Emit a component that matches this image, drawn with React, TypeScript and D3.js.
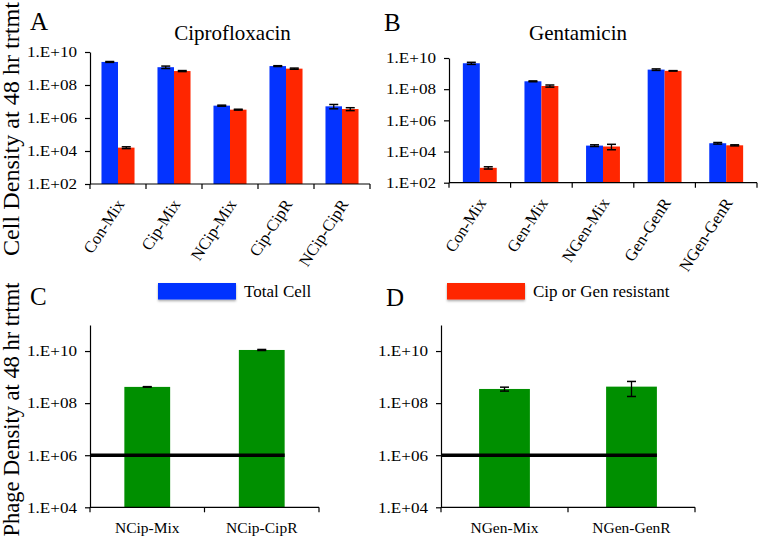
import React, { useEffect, useRef } from "react";
import * as d3 from "d3";

const cipCategories = ["Con-Mix", "Cip-Mix", "NCip-Mix", "Cip-CipR", "NCip-CipR"];
const cipTotal = [2.5e9, 1.2e9, 5.6e6, 1.4e9, 5.1e6];
const cipTotalErr = [1.5e8, 2e8, 4e5, 8e7, 1.5e6];
const cipResistant = [1.6e4, 7e8, 3.2e6, 9.8e8, 3.5e6];
const cipResistantErr = [2e3, 5e7, 2e5, 8e7, 7e5];

const genCategories = ["Con-Mix", "Gen-Mix", "NGen-Mix", "Gen-GenR", "NGen-GenR"];
const genTotal = [4.6e9, 3.2e8, 2.4e4, 1.8e9, 3.4e4];
const genTotalErr = [7e8, 2e7, 3e3, 2e8, 4e3];
const genResistant = [9e2, 1.6e8, 2.1e4, 1.5e9, 2.5e4];
const genResistantErr = [1.5e2, 2.5e7, 8e3, 5e7, 2e3];

const phageCipCategories = ["NCip-Mix", "NCip-CipR"];
const phageCip = [4.2e8, 1.1e10];
const phageCipErr = [1e7, 5e8];
const phageGenCategories = ["NGen-Mix", "NGen-GenR"];
const phageGen = [3.5e8, 4.3e8];
const phageGenErr = [6e7, 2.5e8];
const phageLimit = 1e6;

const cellTicks = [1e2, 1e4, 1e6, 1e8, 1e10];
const phageTicks = [1e4, 1e6, 1e8, 1e10];
const cellDomain = [1e2, 1e10];
const phageDomain = [1e4, 1e11];

const seriesNames = ["Total Cell", "Cip or Gen resistant"];
const panelLetters = ["A", "B", "C", "D"];
const panelTitles = ["Ciprofloxacin", "Gentamicin"];
const yTitles = ["Cell Density at 48 hr trtmt", "Phage Density at 48 hr trtmt"];

const BLUE = "#0433FF";
const RED = "#FF2600";
const GREEN = "#008F00";
const FONT = "Liberation Serif, Times New Roman, serif";

const fmt = (v: number) => "1.E+" + String(Math.round(Math.log10(v))).padStart(2, "0");

export default function App() {
  const ref = useRef<SVGSVGElement | null>(null);

  useEffect(() => {
    const svg = d3.select(ref.current);
    svg.selectAll("*").remove();

    const defs = svg.append("defs");
    defs
      .append("filter")
      .attr("id", "sh")
      .attr("x", "-10%")
      .attr("y", "-30%")
      .attr("width", "130%")
      .attr("height", "180%")
      .append("feDropShadow")
      .attr("dx", 0)
      .attr("dy", 1.5)
      .attr("stdDeviation", 1)
      .attr("flood-opacity", 0.35);

    const txt = (sel: any, size: number) =>
      sel.attr("font-family", FONT).attr("font-size", size).attr("fill", "#000");

    const drawYAxis = (g: any, y: any, ticks: number[], x0: number) => {
      const ax = g
        .append("g")
        .attr("transform", `translate(${x0},0)`)
        .call(d3.axisLeft(y).tickValues(ticks).tickSize(5).tickSizeOuter(0).tickPadding(8).tickFormat(fmt as any));
      ax.attr("font-family", FONT).attr("font-size", 15);
      ax.select(".domain").attr("stroke", "#000").attr("stroke-width", 1.2);
      ax.selectAll(".tick line").attr("stroke", "#000").attr("stroke-width", 1.2);
      txt(ax.selectAll(".tick text"), 15)
        .attr("textLength", 50)
        .attr("lengthAdjust", "spacingAndGlyphs");
    };

    const drawXAxisLine = (g: any, x: any, yPos: number) => {
      const [r0, r1] = x.range();
      g.append("line").attr("x1", r0).attr("x2", r1).attr("y1", yPos).attr("y2", yPos)
        .attr("stroke", "#000").attr("stroke-width", 1.2);
      const step = x.step();
      const bounds = x.domain().map((c: string) => x(c) - (step - x.bandwidth()) / 2);
      bounds.push(r1);
      g.selectAll(null).data(bounds).enter().append("line")
        .attr("x1", (d: number) => d).attr("x2", (d: number) => d)
        .attr("y1", yPos).attr("y2", yPos + 5)
        .attr("stroke", "#000").attr("stroke-width", 1.2);
    };

    const drawErr = (g: any, cx: number, y: any, v: number, e: number, cap: number) => {
      const yt = y(v + e);
      const yb = y(Math.max(v - e, y.domain()[0]));
      g.append("line").attr("x1", cx).attr("x2", cx).attr("y1", yt).attr("y2", yb).attr("stroke", "#000").attr("stroke-width", 1.3);
      [yt, yb].forEach((yy) =>
        g.append("line").attr("x1", cx - cap / 2).attr("x2", cx + cap / 2).attr("y1", yy).attr("y2", yy)
          .attr("stroke", "#000").attr("stroke-width", 1.5)
      );
    };

    const grouped = (
      cats: string[],
      series: { vals: number[]; errs: number[]; color: string }[],
      xr: [number, number],
      yr: [number, number],
      pad: number
    ) => {
      const g = svg.append("g");
      const x = d3.scaleBand().domain(cats).range(xr).paddingInner(pad).paddingOuter(pad / 2);
      const y = d3.scaleLog().domain(cellDomain).range(yr);
      const sub = d3.scaleBand().domain(series.map((_, i) => String(i))).range([0, x.bandwidth()]);
      series.forEach((s, si) => {
        g.selectAll(null).data(cats).enter().append("rect")
          .attr("x", (c: string) => (x(c) as number) + (sub(String(si)) as number))
          .attr("width", sub.bandwidth())
          .attr("y", (_: string, i: number) => y(s.vals[i]))
          .attr("height", (_: string, i: number) => yr[0] - y(s.vals[i]))
          .attr("fill", s.color);
      });
      series.forEach((s, si) => {
        cats.forEach((c, i) => {
          const cx = (x(c) as number) + (sub(String(si)) as number) + sub.bandwidth() / 2;
          drawErr(g, cx, y, s.vals[i], s.errs[i], 9);
        });
      });
      drawYAxis(g, y, cellTicks, xr[0]);
      drawXAxisLine(g, x, yr[0]);
      txt(
        g.selectAll(null).data(cats).enter().append("text")
          .attr("transform", (c: string) =>
            `translate(${(x(c) as number) + x.bandwidth() / 2 + 7},${yr[0] + 20}) rotate(-57)`)
          .attr("text-anchor", "end"),
        16.5
      ).text((c: string) => c);
    };

    const phage = (cats: string[], vals: number[], errs: number[], xr: [number, number], yr: [number, number]) => {
      const g = svg.append("g");
      const x = d3.scaleBand().domain(cats).range(xr).paddingInner(0.6).paddingOuter(0.3);
      const y = d3.scaleLog().domain(phageDomain).range(yr);
      g.selectAll(null).data(cats).enter().append("rect")
        .attr("x", (c: string) => x(c) as number)
        .attr("width", x.bandwidth())
        .attr("y", (_: string, i: number) => y(vals[i]))
        .attr("height", (_: string, i: number) => yr[0] - y(vals[i]))
        .attr("fill", GREEN);
      cats.forEach((c, i) => drawErr(g, (x(c) as number) + x.bandwidth() / 2, y, vals[i], errs[i], 9));
      drawYAxis(g, y, phageTicks, xr[0]);
      drawXAxisLine(g, x, yr[0]);
      const last = cats[cats.length - 1];
      g.append("line")
        .attr("x1", xr[0] + 1)
        .attr("x2", (x(last) as number) + x.bandwidth())
        .attr("y1", y(phageLimit)).attr("y2", y(phageLimit))
        .attr("stroke", "#000").attr("stroke-width", 3.5);
      txt(
        g.selectAll(null).data(cats).enter().append("text")
          .attr("x", (c: string) => (x(c) as number) + x.bandwidth() / 2)
          .attr("y", yr[0] + 26)
          .attr("text-anchor", "middle"),
        15.5
      ).text((c: string) => c);
    };

    grouped(
      cipCategories,
      [
        { vals: cipTotal, errs: cipTotalErr, color: BLUE },
        { vals: cipResistant, errs: cipResistantErr, color: RED },
      ],
      [90, 370],
      [184, 52],
      0.41
    );
    grouped(
      genCategories,
      [
        { vals: genTotal, errs: genTotalErr, color: BLUE },
        { vals: genResistant, errs: genResistantErr, color: RED },
      ],
      [449, 757],
      [182.7, 58],
      0.45
    );
    phage(phageCipCategories, phageCip, phageCipErr, [90, 319], [507.3, 325]);
    phage(phageGenCategories, phageGen, phageGenErr, [441, 695], [507.3, 325]);

    const letterPos = [
      [30, 30],
      [384, 31],
      [30, 305],
      [386, 306],
    ];
    panelLetters.forEach((l, i) => {
      txt(svg.append("text").attr("x", letterPos[i][0]).attr("y", letterPos[i][1]), 25).text(l);
    });

    const titleX = [232.5, 578];
    panelTitles.forEach((t, i) => {
      txt(svg.append("text").attr("x", titleX[i]).attr("y", 39.5).attr("text-anchor", "middle"), 21).text(t);
    });

    const yTitleY = [129, 409.5];
    yTitles.forEach((t, i) => {
      txt(
        svg.append("text")
          .attr("transform", `translate(18.5,${yTitleY[i]}) rotate(-90)`)
          .attr("text-anchor", "middle")
          .attr("textLength", 254)
          .attr("lengthAdjust", "spacingAndGlyphs"),
        22.5
      ).text(t);
    });

    const legendX = [158, 447];
    const legendColors = [BLUE, RED];
    seriesNames.forEach((n, i) => {
      svg.append("rect").attr("x", legendX[i]).attr("y", 283).attr("width", 78).attr("height", 16.5)
        .attr("fill", legendColors[i]).attr("filter", "url(#sh)");
      txt(svg.append("text").attr("x", legendX[i] + 86).attr("y", 297), 17).text(n);
    });
  }, []);

  return (
    <svg
      ref={ref}
      width={760}
      height={538}
      fontFamily={FONT}
      style={{ position: "absolute", left: 0, top: 0, background: "#fff" }}
    />
  );
}
